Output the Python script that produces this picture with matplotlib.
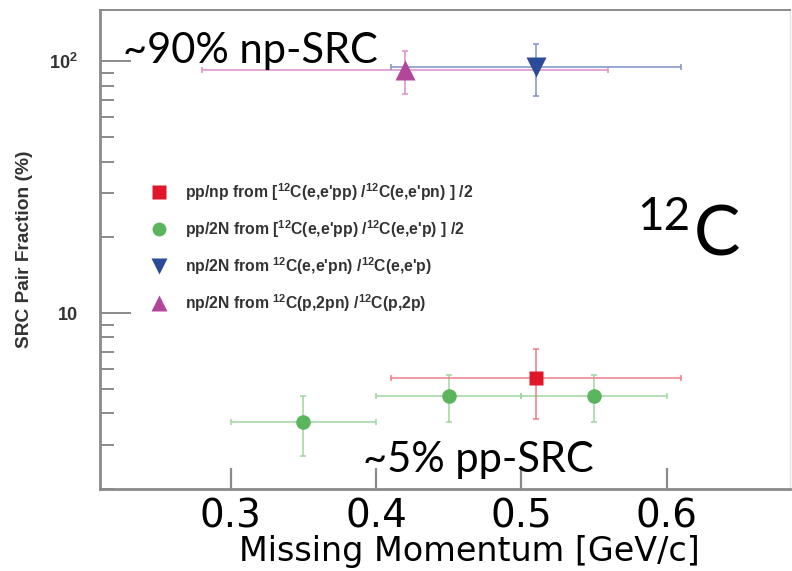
import matplotlib
matplotlib.use("Agg")
import matplotlib.pyplot as plt
from matplotlib.lines import Line2D
from matplotlib.ticker import FixedLocator, FixedFormatter, NullFormatter, LogLocator

plt.rcParams["mathtext.fontset"] = "custom"
plt.rcParams["mathtext.rm"] = "Liberation Sans:bold"
plt.rcParams["mathtext.bf"] = "Liberation Sans:bold"
plt.rcParams["mathtext.it"] = "Liberation Sans:bold"

# --- data -------------------------------------------------------------
# pp/np from [12C(e,e'pp)/12C(e,e'pn)]/2
ppnp_x = [0.51]
ppnp_xerr = [0.10]
ppnp_y = [5.5]
ppnp_yerr = [1.7]

# pp/2N from [12C(e,e'pp)/12C(e,e'p)]/2
pp2n_x = [0.35, 0.45, 0.55]
pp2n_xerr = [0.05, 0.05, 0.05]
pp2n_y = [3.7, 4.7, 4.7]
pp2n_yerr = [1.0, 1.0, 1.0]

# np/2N from 12C(e,e'pn)/12C(e,e'p)
np2n_x = [0.51]
np2n_xerr = [0.10]
np2n_y = [95.0]
np2n_yerr = [22.0]

# np/2N from 12C(p,2pn)/12C(p,2p)
np2n_p_x = [0.42]
np2n_p_xerr_lo = [0.14]
np2n_p_xerr_hi = [0.14]
np2n_p_y = [92.0]
np2n_p_yerr = [18.0]

x_ticks = [0.3, 0.4, 0.5, 0.6]
x_ticklabels = ["0.3", "0.4", "0.5", "0.6"]
y_ticks = [10, 100]
y_ticklabels = ["10", r"$\mathbf{10^{2}}$"]

legend_labels = [
    r"pp/np from [$^{12}$C(e,e'pp) /$^{12}$C(e,e'pn) ] /2",
    r"pp/2N from [$^{12}$C(e,e'pp) /$^{12}$C(e,e'p) ] /2",
    r"np/2N from $^{12}$C(e,e'pn) /$^{12}$C(e,e'p)",
    r"np/2N from $^{12}$C(p,2pn) /$^{12}$C(p,2p)",
]

# --- styling ------------------------------------------------------------
RED, RED_L = "#e0162b", "#ec7e8a"
GREEN, GREEN_L = "#5ab55c", "#9fd69f"
BLUE, BLUE_L = "#2b4a98", "#7f92c9"
MAG, MAG_L = "#b2479a", "#dc8cc8"
AXIS_GRAY = "#8a8a8a"
W, H = 792, 571

fig = plt.figure(figsize=(W / 100, H / 100), dpi=100)
ax = fig.add_axes([100 / W, 1 - 489 / H, 690 / W, 479 / H])
ax.set_yscale("log")
ax.set_xlim(0.21, 0.685)
ax.set_ylim(2.0, 160.0)

eb_kw = dict(fmt="none", elinewidth=1.1, capsize=2.0, capthick=1.1, zorder=2)
ax.errorbar(pp2n_x, pp2n_y, xerr=pp2n_xerr, yerr=pp2n_yerr, ecolor=GREEN_L, **eb_kw)
ax.errorbar(ppnp_x, ppnp_y, xerr=ppnp_xerr, yerr=ppnp_yerr, ecolor=RED_L, **eb_kw)
ax.errorbar(np2n_p_x, np2n_p_y, xerr=[np2n_p_xerr_lo, np2n_p_xerr_hi],
            yerr=np2n_p_yerr, ecolor=MAG_L, **eb_kw)
ax.errorbar(np2n_x, np2n_y, xerr=np2n_xerr, yerr=np2n_yerr, ecolor=BLUE_L, **eb_kw)

ax.plot(pp2n_x, pp2n_y, "o", color=GREEN, ms=10.5, mec="none", zorder=3)
ax.plot(ppnp_x, ppnp_y, "s", color=RED, ms=10.5, mec="none", zorder=3)
ax.plot(np2n_p_x, np2n_p_y, "^", color=MAG, ms=14, mec="none", zorder=3)
ax.plot(np2n_x, np2n_y, "v", color=BLUE, ms=14, mec="none", zorder=3)

# axes frame
for side in ("left", "bottom", "top"):
    ax.spines[side].set_color(AXIS_GRAY)
ax.spines["left"].set_linewidth(2.0)
ax.spines["bottom"].set_linewidth(2.0)
ax.spines["top"].set_linewidth(1.4)
ax.spines["right"].set_color("#e4e4e4")
ax.spines["right"].set_linewidth(1.0)

# x axis
ax.xaxis.set_major_locator(FixedLocator(x_ticks))
ax.xaxis.set_major_formatter(FixedFormatter(x_ticklabels))
ax.xaxis.set_minor_locator(FixedLocator([]))
ax.tick_params(axis="x", which="major", direction="in", length=15, width=1.6,
               color=AXIS_GRAY, pad=6, labelsize=28, top=False)
for lab in ax.get_xticklabels():
    lab.set_fontfamily("DejaVu Sans")

# y axis
ax.yaxis.set_major_locator(FixedLocator(y_ticks))
ax.yaxis.set_major_formatter(FixedFormatter(y_ticklabels))
ax.yaxis.set_minor_locator(LogLocator(base=10, subs=range(2, 10), numticks=20))
ax.yaxis.set_minor_formatter(NullFormatter())
ax.tick_params(axis="y", which="major", direction="in", length=22, width=1.4,
               color=AXIS_GRAY, pad=16, labelsize=13, right=False)
ax.tick_params(axis="y", which="minor", direction="in", length=10, width=1.4,
               color=AXIS_GRAY, right=False)
for lab in ax.get_yticklabels():
    lab.set_fontfamily("Liberation Sans")
    lab.set_fontweight("bold")
    lab.set_color("#333333")

ax.set_ylabel("SRC Pair Fraction (%)", family="Liberation Sans", weight="bold",
              fontsize=13.8, color="#333333")
ax.yaxis.set_label_coords(-0.097, 0.5)

ax.set_xlabel("Missing Momentum [GeV/c]", family="DejaVu Sans", fontsize=24,
              labelpad=0)
ax.xaxis.set_label_coords(0.535, -0.097)

# legend (markers only)
handles = [
    Line2D([], [], ls="none", marker="s", color=RED, ms=10, mec="none"),
    Line2D([], [], ls="none", marker="o", color=GREEN, ms=10, mec="none"),
    Line2D([], [], ls="none", marker="v", color=BLUE, ms=12, mec="none"),
    Line2D([], [], ls="none", marker="^", color=MAG, ms=12, mec="none"),
]
leg = ax.legend(handles, legend_labels, loc="upper left",
                bbox_to_anchor=((143 - 100) / 690, (489 - 173) / 479),
                frameon=False, handlelength=1.0, handletextpad=1.2,
                labelspacing=0.98, borderpad=0.0,
                prop=dict(family="Liberation Sans", weight="bold", size=11.3))
for t in leg.get_texts():
    t.set_color("#333333")

# annotations
fig.text(123 / W, 1 - 63 / H, "~90% np-SRC", family="Lato", fontsize=30,
         va="baseline", ha="left")
fig.text(363 / W, 1 - 472 / H, "~5% pp-SRC", family="Lato", fontsize=30,
         va="baseline", ha="left")
fig.text(690 / W, 1 - 230 / H, "12", family="Lato", fontsize=33,
         va="baseline", ha="right")
fig.text(694 / W, 1 - 255 / H, "C", family="Lato", fontsize=50,
         va="baseline", ha="left")

fig.savefig("out.png", dpi=100)
